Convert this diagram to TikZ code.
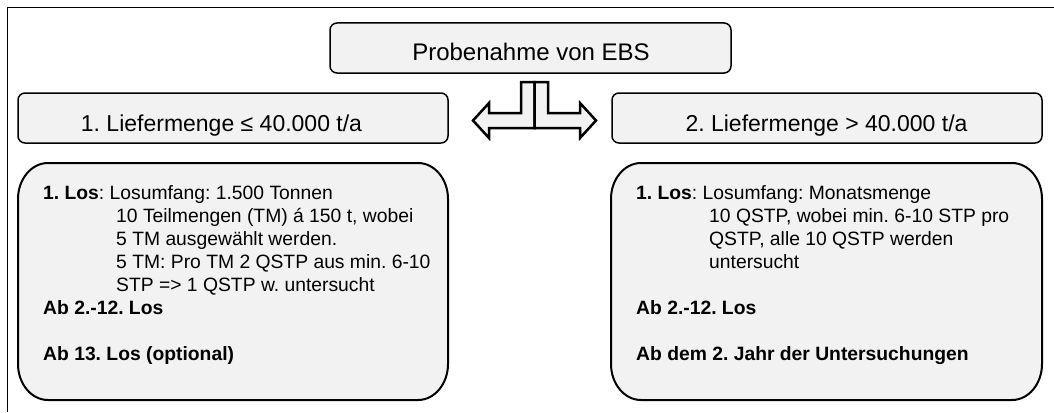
\documentclass[tikz,border=0pt]{standalone}
\usepackage{fontspec}
\setmainfont{Liberation Sans}
\frenchspacing
% rounded box with elliptical corners: #1,#2 = left,top  #3,#4 = right,bottom
\newcommand{\ovalpanel}[4]{%
  \draw[bigpanel] (#1+30,#2) -- (#3-30,#2)
    arc[start angle=-90,end angle=0,x radius=30,y radius=36] -- (#3,#4-36)
    arc[start angle=0,end angle=90,x radius=30,y radius=36] -- (#1+30,#4)
    arc[start angle=90,end angle=180,x radius=30,y radius=36] -- (#1,#2+36)
    arc[start angle=180,end angle=270,x radius=30,y radius=36] -- cycle;}
\begin{document}
\begin{tikzpicture}[x=1pt,y=-1pt,
  panel/.style={draw=black,fill=boxgray,line width=1.5pt,rounded corners=7pt,
    inner sep=0pt,minimum width=430pt,minimum height=50pt},
  bigpanel/.style={draw=black,fill=boxgray,line width=2pt},
  headtext/.style={inner sep=0pt,anchor=base,font=\fontsize{23}{27}\selectfont},
  bodytext/.style={inner sep=0pt,anchor=north west,align=left,
    font=\fontsize{19.3}{23}\selectfont},
  blockarrow/.style={draw=black,fill=boxgray,line width=2.5pt,line join=miter}]
\definecolor{boxgray}{HTML}{F2F2F2}
\useasboundingbox (0,0) rectangle (1054,412);

% open frame: left and top edge only
\draw[line width=1.6pt] (7.5,412) -- (7.5,7.5) -- (1054,7.5);

% title
\node[panel,minimum width=401pt] (title) at (530.5,48) {};
\node[headtext,font=\fontsize{24}{28}\selectfont] (titletext) at (531,60) {Probenahme von EBS};

% split arrows below the title
\coordinate (stemtop) at (534.5,82);
\draw[blockarrow] (stemtop) -- (521,82) -- (521,113) -- (489,113) -- (489,103)
  -- (473,120.5) -- (489,138) -- (489,128) -- (534.5,128) -- cycle;
\draw[blockarrow] (stemtop) -- (548,82) -- (548,113) -- (580,113) -- (580,103)
  -- (596,120.5) -- (580,138) -- (580,128) -- (534.5,128) -- cycle;

% the two cases
\node[panel] (left) at (233,118) {};
\node[headtext] (lefttext) at (221.5,131.5) {1. Liefermenge ≤ 40.000 t/a};
\node[panel] (right) at (827,118) {};
\node[headtext] (righttext) at (826.5,131.5) {2. Liefermenge > 40.000 t/a};

% details per case
\ovalpanel{18}{163}{448}{400}
\node[bodytext] (leftbody) at (43,185) {%
  \textbf{1. Los}: Losumfang: 1.500 Tonnen\\
  \hspace*{73pt}10 Teilmengen (TM) á 150 t, wobei\\
  \hspace*{73pt}5 TM ausgewählt werden.\\
  \hspace*{73pt}5 TM: Pro TM 2 QSTP aus min. 6-10\\
  \hspace*{73pt}STP => 1 QSTP w. untersucht\\
  \textbf{Ab 2.-12. Los}\\[23pt]
  \textbf{Ab 13. Los (optional)}};

\ovalpanel{611}{163}{1042}{400}
\node[bodytext] (rightbody) at (636,185) {%
  \textbf{1. Los}: Losumfang: Monatsmenge\\
  \hspace*{73pt}10 QSTP, wobei min. 6-10 STP pro\\
  \hspace*{73pt}QSTP, alle 10 QSTP werden\\
  \hspace*{73pt}untersucht\\[23pt]
  \textbf{Ab 2.-12. Los}\\[23pt]
  \textbf{Ab dem 2. Jahr der Untersuchungen}};
\end{tikzpicture}
\end{document}
